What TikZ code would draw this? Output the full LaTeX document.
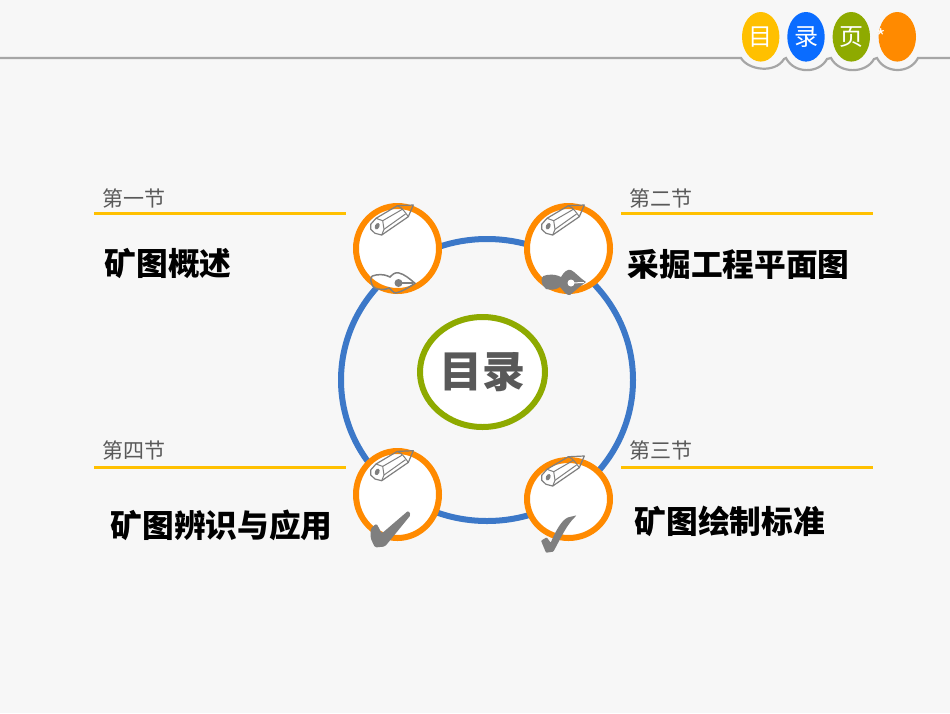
\documentclass[tikz,border=0pt]{standalone}
\usepackage{fontspec}
\setmainfont{Noto Sans CJK SC}
\usetikzlibrary{shapes.geometric}
\definecolor{pagebg}{HTML}{F7F7F7}
\definecolor{ruleyellow}{HTML}{FFC000}
\definecolor{ringblue}{HTML}{3C78C8}
\definecolor{ringorange}{HTML}{FF8A00}
\definecolor{ringgreen}{HTML}{8EAA00}
\definecolor{tabblue}{HTML}{0A6CFF}
\definecolor{icongray}{HTML}{7F7F7F}
\definecolor{textgray}{HTML}{595959}
\tikzset{
  tab/.style={ellipse,draw=none,minimum width=37.4pt,minimum height=49.6pt,inner sep=0pt,text=white,font=\fontsize{24}{28}\selectfont},
  badge/.style={ellipse,draw=ringorange,line width=6pt,fill=white,minimum width=83pt,inner sep=0pt},
  sectionlabel/.style={anchor=west,inner sep=0pt,text=textgray,font=\fontsize{21}{25}\selectfont},
  titlelabel/.style={anchor=west,inner sep=0pt,text=black,font=\fontsize{31.7}{36}\selectfont\bfseries},
  yellowrule/.style={draw=ruleyellow,line width=3pt},
  pencil/.pic={
    \draw[icongray,line width=1.2pt,line join=round] (370.7,224.3) -- (376,218.3) -- (397.3,205.7) -- (413.3,205) -- (408.3,216.7) -- (381.7,235) -- (375,233.3) -- (370.7,229.3) -- cycle;
    \draw[icongray,line width=1pt] (376,218.3) -- (382.7,220.7) -- (384,229.3) -- (381.7,235);
    \draw[icongray,line width=1pt] (382.7,220.7) -- (402,209.5);
    \draw[icongray,line width=1pt] (384,229.3) -- (405.5,214);
    \draw[icongray,line width=1pt] (397.3,205.7) .. controls (402,207.5) and (405,212) .. (408.3,216.7);
    \fill[icongray,rotate around={-25:(377.2,226.2)}] (377.2,226.2) ellipse (2.2pt and 3.4pt);
  }
}
\begin{document}
\begin{tikzpicture}[x=1pt,y=-1pt]
\useasboundingbox (0,0) rectangle (950,713);
\fill[pagebg] (0,0) rectangle (950,713);

\draw[gray!70,line width=2.2pt] (0,58) -- (741,58) .. controls (748,70) and (775,74) .. (784,59) -- (786,58) .. controls (794,74) and (819,74) .. (827,59) -- (831,58) .. controls (839,74) and (866,74) .. (874,59) -- (877,58) .. controls (885,74) and (910,74) .. (918,58) -- (950,58);

\node[tab,fill=ruleyellow] (mu) at (760.7,36.8) {\raisebox{-1pt}{目}};
\node[tab,fill=tabblue] (lu) at (806,36.8) {\raisebox{-1pt}{录}};
\node[tab,fill=ringgreen] (ye) at (851.3,36.8) {\raisebox{-1pt}{页}};
\node[tab,fill=ringorange] (star) at (897.3,36.8) {};
\node[text=white,inner sep=0pt,font=\fontsize{20}{24}\selectfont] (starmark) at (881.5,37) {*};

\node[sectionlabel] (sec1) at (102.5,198) {第一节};
\node[sectionlabel] (sec2) at (629.5,198) {第二节};
\node[sectionlabel] (sec3) at (629.5,450) {第三节};
\node[sectionlabel] (sec4) at (102.5,450) {第四节};

\draw[yellowrule] (94,213.5) -- (346,213.5);
\draw[yellowrule] (621,213.5) -- (873,213.5);
\draw[yellowrule] (94,467.5) -- (346,467.5);
\draw[yellowrule] (621,467.5) -- (873,467.5);

\node[titlelabel] (title1) at (104.5,264) {矿图概述};
\node[titlelabel] (title2) at (627.5,264) {采掘工程平面图};
\node[titlelabel] (title3) at (634.5,521) {矿图绘制标准};
\node[titlelabel] (title4) at (110.5,525) {矿图辨识与应用};

\node[ellipse,draw=ringblue,line width=6pt,minimum width=292pt,minimum height=282pt,inner sep=0pt] (ring) at (487,380) {};

\node[ellipse,draw=ringgreen,line width=6pt,fill=white,minimum width=125pt,minimum height=110pt,inner sep=0pt,text=textgray,font=\fontsize{43}{48}\selectfont\bfseries] (toc) at (482.5,372) {\raisebox{1pt}{目录}};

\node[badge,minimum height=85pt] (badge1) at (397.5,248.5) {};
\node[badge,minimum height=85pt] (badge2) at (568.5,248.5) {};
\node[badge,minimum height=78pt] (badge3) at (568.5,499) {};
\node[badge,minimum height=87pt] (badge4) at (397.5,494.5) {};

\pic at (0,0) {pencil};
\pic at (171,0) {pencil};
\pic at (171,251) {pencil};
\pic at (0,245.7) {pencil};

\draw[icongray,line width=1.5pt] (370.7,280) .. controls (371,276) and (373,275) .. (376,275) .. controls (382,274) and (386,275) .. (390,277) .. controls (393,274) and (395,272) .. (399,273) .. controls (404,274) and (410,279) .. (415,283.3) .. controls (408,288) and (403,291) .. (396,293) .. controls (393,293) and (391,289) .. (389,288) .. controls (385,290) and (380,290) .. (375,288) .. controls (372,286) and (371,283) .. (370.7,280) -- cycle;
\fill[icongray] (398.5,283) circle (4pt);
\draw[icongray,line width=1.2pt] (398.5,283) -- (413,283);

\fill[icongray] (541.5,280) .. controls (542,276) and (544,275) .. (547,275) .. controls (553,274) and (557,275) .. (561,277) .. controls (564,272) and (567,269) .. (571,270) .. controls (575,272) and (581,279) .. (586,282) .. controls (579,287) and (575,291) .. (570,295) .. controls (566,296) and (563,290) .. (560,287) .. controls (556,290) and (551,290) .. (546,289) .. controls (543,287) and (542,284) .. (541.5,280) -- cycle;
\fill[white] (571,283) circle (3.5pt);
\draw[white,line width=1pt] (571,283) -- (584,282.5);

\fill[icongray,rounded corners=1.5pt] (370.7,528.5) -- (376.5,523.5) -- (380,530) -- (381.7,533.5) -- (408.5,510.5) -- (410.7,515) -- (385,546.5) -- (375,547.5) -- (370.7,538.5) -- cycle;
\fill[icongray,rounded corners=.8pt] (541,540.7) -- (546.7,537.3) -- (550.7,542.7) .. controls (556,530) and (562,520) .. (568.3,517.3) -- (576.7,515.3) .. controls (566,525) and (560,540) .. (553.3,551.7) -- (546,552.7) -- cycle;
\end{tikzpicture}
\end{document}
